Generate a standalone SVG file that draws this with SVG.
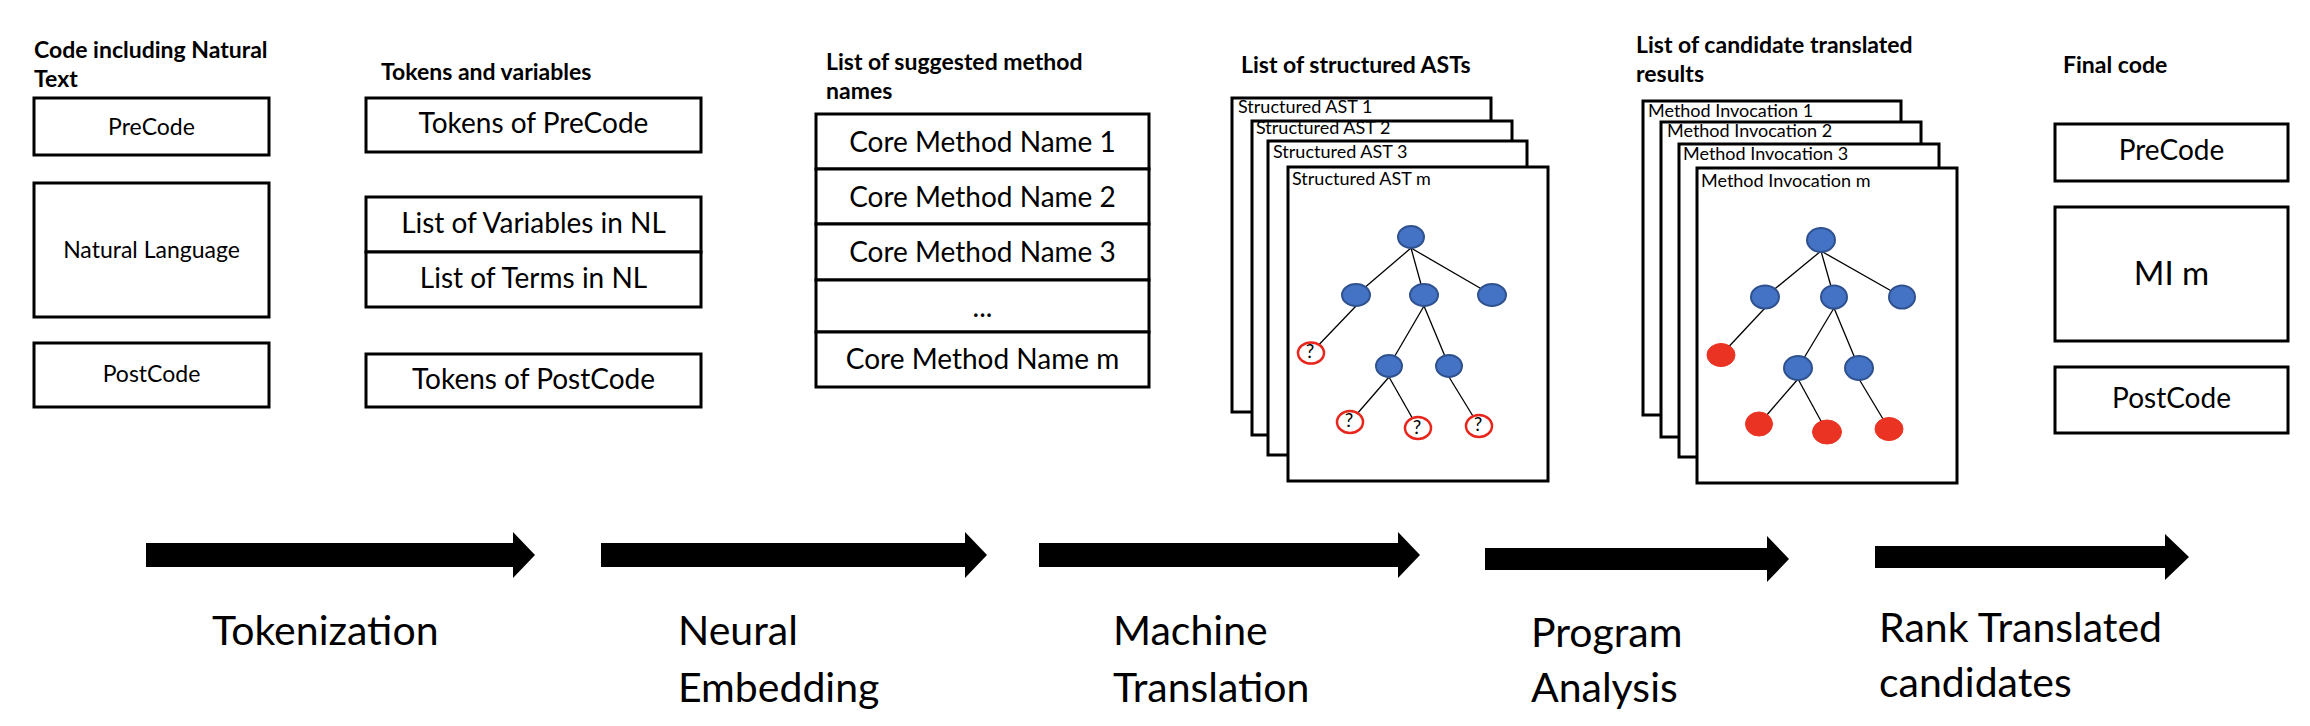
<svg xmlns="http://www.w3.org/2000/svg" width="2310" height="726" viewBox="0 0 2310 726">
<style>
text{font-family:Lato,"Liberation Sans",sans-serif;fill:#000}
.title{font-weight:bold;font-size:23px}
.box{fill:#fff;stroke:#000;stroke-width:3}
.page{fill:#fff;stroke:#000;stroke-width:3}
.t25{font-size:23px;text-anchor:middle}
.t30{font-size:28px;text-anchor:middle}
.pl{font-size:18px}
.big{font-size:41px}
.edge{stroke:#000;stroke-width:1.3;fill:none}
.bn{fill:#4472C4;stroke:#2F528F;stroke-width:2}
.qn{fill:#fff;stroke:#E8261C;stroke-width:2.5}
.rn{fill:#EA3323;stroke:#EA3323;stroke-width:1}
.q{font-size:19px;text-anchor:middle}
.arrow{fill:#000}
</style>

<g id="col1">
<text class="title" x="34" y="58">Code including Natural</text>
<text class="title" x="34" y="87">Text</text>
</g>
<g id="n-precode"><rect class="box" x="34" y="98" width="235" height="57"/><text class="t25" x="151.5" y="135">PreCode</text></g>
<g id="n-nl"><rect class="box" x="34" y="183" width="235" height="134"/><text class="t25" x="151.5" y="258">Natural Language</text></g>
<g id="n-postcode"><rect class="box" x="34" y="343" width="235" height="64"/><text class="t25" x="151.5" y="382">PostCode</text></g>

<g id="col2"><text class="title" x="381" y="80">Tokens and variables</text></g>
<g id="n-tokpre"><rect class="box" x="366" y="98" width="335" height="54"/><text class="t30" x="533.5" y="133">Tokens of PreCode</text></g>
<g id="n-vars"><rect class="box" x="366" y="197" width="335" height="55"/><text class="t30" x="533.5" y="233">List of Variables in NL</text></g>
<g id="n-terms"><rect class="box" x="366" y="252" width="335" height="55"/><text class="t30" x="533.5" y="288">List of Terms in NL</text></g>
<g id="n-tokpost"><rect class="box" x="366" y="354" width="335" height="53"/><text class="t30" x="533.5" y="389">Tokens of PostCode</text></g>

<g id="col3">
<text class="title" x="826" y="70">List of suggested method</text>
<text class="title" x="826" y="99">names</text>
</g>
<g id="n-methods">
<rect class="box" x="816" y="114" width="333" height="55"/>
<rect class="box" x="816" y="169" width="333" height="55"/>
<rect class="box" x="816" y="224" width="333" height="56"/>
<rect class="box" x="816" y="280" width="333" height="52"/>
<rect class="box" x="816" y="332" width="333" height="55"/>
<text class="t30" x="982.5" y="152">Core Method Name 1</text>
<text class="t30" x="982.5" y="207">Core Method Name 2</text>
<text class="t30" x="982.5" y="262">Core Method Name 3</text>
<text class="t30" x="982.5" y="317">...</text>
<text class="t30" x="982.5" y="369">Core Method Name m</text>
</g>

<g id="col4"><text class="title" x="1241" y="73">List of structured ASTs</text></g>
<g id="n-asts">
<rect class="page" x="1232" y="98" width="259" height="314"/>
<text class="pl" x="1238" y="113">Structured AST 1</text>
<rect class="page" x="1252" y="121" width="260" height="314"/>
<text class="pl" x="1256" y="134">Structured AST 2</text>
<rect class="page" x="1268" y="141" width="259" height="314"/>
<text class="pl" x="1273" y="158">Structured AST 3</text>
<rect class="page" x="1288" y="167" width="260" height="314"/>
<text class="pl" x="1292" y="185">Structured AST m</text>
<g class="edge">
<line x1="1411" y1="248" x2="1356" y2="295"/>
<line x1="1411" y1="248" x2="1424" y2="295"/>
<line x1="1411" y1="248" x2="1492" y2="295"/>
<line x1="1356" y1="306" x2="1311" y2="353"/>
<line x1="1424" y1="306" x2="1389" y2="366"/>
<line x1="1424" y1="306" x2="1449" y2="366"/>
<line x1="1389" y1="377" x2="1350" y2="422"/>
<line x1="1389" y1="377" x2="1418" y2="428"/>
<line x1="1449" y1="377" x2="1479" y2="426"/>
</g>
<ellipse class="bn" cx="1411" cy="237" rx="13" ry="11"/>
<ellipse class="bn" cx="1356" cy="295" rx="14" ry="11"/>
<ellipse class="bn" cx="1424" cy="295" rx="14" ry="11"/>
<ellipse class="bn" cx="1492" cy="295" rx="14" ry="11"/>
<ellipse class="bn" cx="1389" cy="366" rx="13" ry="11"/>
<ellipse class="bn" cx="1449" cy="366" rx="13" ry="11"/>
<ellipse class="qn" cx="1311" cy="353" rx="13" ry="10.5"/>
<ellipse class="qn" cx="1350" cy="422" rx="13" ry="11"/>
<ellipse class="qn" cx="1418" cy="428" rx="13" ry="11"/>
<ellipse class="qn" cx="1479" cy="426" rx="13" ry="11"/>
<text class="q" x="1310" y="358">?</text>
<text class="q" x="1349" y="427">?</text>
<text class="q" x="1417" y="434">?</text>
<text class="q" x="1478" y="431">?</text>
</g>

<g id="col5">
<text class="title" x="1636" y="53">List of candidate translated</text>
<text class="title" x="1636" y="82">results</text>
</g>
<g id="n-mis">
<rect class="page" x="1643" y="101" width="258" height="314"/>
<text class="pl" x="1648" y="117">Method Invocation 1</text>
<rect class="page" x="1661" y="122" width="260" height="315"/>
<text class="pl" x="1667" y="137">Method Invocation 2</text>
<rect class="page" x="1679" y="144" width="260" height="313"/>
<text class="pl" x="1683" y="160">Method Invocation 3</text>
<rect class="page" x="1697" y="168" width="260" height="315"/>
<text class="pl" x="1701" y="187">Method Invocation m</text>
<g class="edge">
<line x1="1821" y1="251" x2="1765" y2="297"/>
<line x1="1821" y1="251" x2="1834" y2="297"/>
<line x1="1821" y1="251" x2="1902" y2="297"/>
<line x1="1765" y1="308" x2="1721" y2="355"/>
<line x1="1834" y1="308" x2="1798" y2="368"/>
<line x1="1834" y1="308" x2="1859" y2="368"/>
<line x1="1798" y1="379" x2="1759" y2="424"/>
<line x1="1798" y1="379" x2="1827" y2="432"/>
<line x1="1859" y1="379" x2="1889" y2="429"/>
</g>
<ellipse class="bn" cx="1821" cy="240" rx="14" ry="12"/>
<ellipse class="bn" cx="1765" cy="297" rx="14" ry="11.5"/>
<ellipse class="bn" cx="1834" cy="297" rx="13" ry="11.5"/>
<ellipse class="bn" cx="1902" cy="297" rx="13" ry="11.5"/>
<ellipse class="bn" cx="1798" cy="368" rx="14" ry="12"/>
<ellipse class="bn" cx="1859" cy="368" rx="14" ry="12"/>
<ellipse class="rn" cx="1721" cy="355" rx="14" ry="11.5"/>
<ellipse class="rn" cx="1759" cy="424" rx="13.5" ry="12"/>
<ellipse class="rn" cx="1827" cy="432" rx="14.5" ry="12"/>
<ellipse class="rn" cx="1889" cy="429" rx="14" ry="11.5"/>
</g>

<g id="col6"><text class="title" x="2063" y="73">Final code</text></g>
<g id="n-fpre"><rect class="box" x="2055" y="124" width="233" height="57"/><text class="t30" x="2171.5" y="160">PreCode</text></g>
<g id="n-fmi"><rect class="box" x="2055" y="207" width="233" height="134"/><text class="t30" x="2171.5" y="285" style="font-size:33px">MI m</text></g>
<g id="n-fpost"><rect class="box" x="2055" y="367" width="233" height="66"/><text class="t30" x="2171.5" y="408">PostCode</text></g>

<g id="connectors">
<polygon class="arrow" points="146,543 513,543 513,532 535,555 513,578 513,567 146,567"/>
<polygon class="arrow" points="601,543 965,543 965,532 987,555 965,578 965,567 601,567"/>
<polygon class="arrow" points="1039,543 1398,543 1398,532 1420,555 1398,578 1398,567 1039,567"/>
<polygon class="arrow" points="1485,548 1767,548 1767,536 1789,559 1767,582 1767,570 1485,570"/>
<polygon class="arrow" points="1875,546 2165,546 2165,534 2189,557 2165,580 2165,568 1875,568"/>
</g>

<g id="labels">
<text class="big" x="212" y="645">Tokenization</text>
<text class="big" x="678" y="645">Neural</text>
<text class="big" x="678" y="702">Embedding</text>
<text class="big" x="1113" y="645">Machine</text>
<text class="big" x="1113" y="702">Translation</text>
<text class="big" x="1531" y="647">Program</text>
<text class="big" x="1531" y="702">Analysis</text>
<text class="big" x="1879" y="642">Rank Translated</text>
<text class="big" x="1879" y="697">candidates</text>
</g>
</svg>
